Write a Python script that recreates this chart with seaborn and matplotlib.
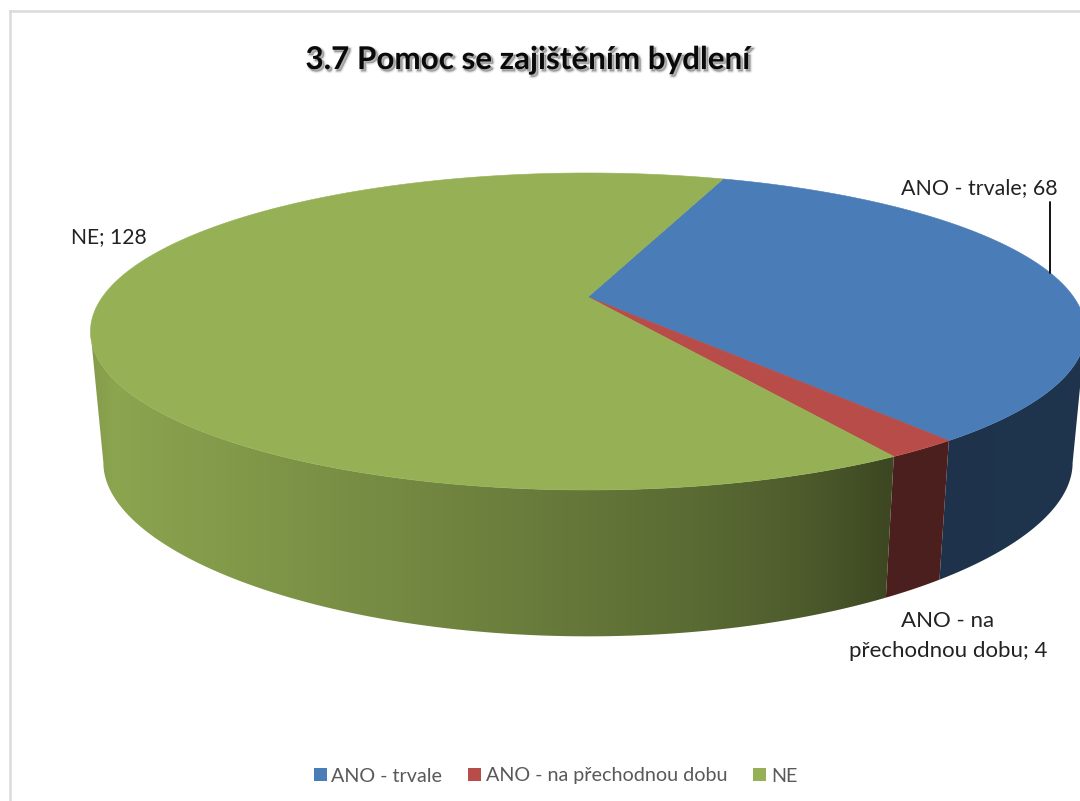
import numpy as np
import matplotlib
matplotlib.use("Agg")
import matplotlib.pyplot as plt
import matplotlib.patheffects as pe
from matplotlib.patches import Patch, Polygon
import seaborn as sns

# ---- data ----
categories = ["ANO - trvale", "ANO - na přechodnou dobu", "NE"]
values = [68, 4, 128]
title_text = "3.7 Pomoc se zajištěním bydlení"
label_texts = ["ANO - trvale; 68", "ANO - na\npřechodnou dobu; 4", "NE; 128"]
colors = ["#4A7CB7", "#B84C48", "#96B155"]

# ---- style ----
sns.set_theme(style="white")
plt.rcParams["font.family"] = ["Lato", "Open Sans", "DejaVu Sans"]
palette = sns.color_palette(colors)

W, H = 1080, 801
fig = plt.figure(figsize=(W / 100, H / 100), dpi=100, facecolor="white")
ax = fig.add_axes([0, 0, 1, 1])

# perspective model of the pie
CX = 588
START_DEG = 19.6
K = 0.2176
TOP = dict(a=485.6, y0=297.0, b=151.0, k=K)
BOT = dict(a=473.0, y0=428.0, b=150.0, k=0.28)
SIL_LO, SIL_HI = np.arccos(-K), 2 * np.pi - np.arccos(-K)  # outline tangents


def project(theta, plane):
    X, Y = np.sin(theta), np.cos(theta)
    u = CX + plane["a"] * X / (1 + K * Y)
    v = plane["y0"] - plane["b"] * Y / (1 + plane["k"] * Y)
    return u, v


def shade(x):
    return np.interp(x, [90, 115, 300, 500, 700, 800, 885, 1090],
                     [0.88, 0.93, 0.83, 0.72, 0.60, 0.52, 0.41, 0.42])


angles = np.deg2rad(START_DEG + np.concatenate([[0], np.cumsum(values)]) / sum(values) * 360)
xs = np.arange(W) + 0.5

# side wall: a horizontal lighting gradient clipped to each slice's visible wall
for i, col in enumerate(palette):
    lo, hi = max(angles[i], SIL_LO), min(angles[i + 1], SIL_HI)
    if hi <= lo:
        continue
    th = np.linspace(lo, hi, 200)
    ut, vt = project(th, TOP)
    ub, vb = project(th, BOT)
    wall = Polygon(np.c_[np.r_[ut, ub[::-1]], np.r_[vt, vb[::-1]]], closed=True,
                   transform=ax.transData, fc="none", ec="none")
    ax.add_patch(wall)
    grad = np.clip(shade(xs)[None, :, None] * np.array(col)[None, None, :], 0, 1)
    im = ax.imshow(grad, extent=(0, W, H, 0), aspect="auto", interpolation="bilinear", zorder=2)
    im.set_clip_path(wall)

ax.set_xlim(0, W)
ax.set_ylim(H, 0)
ax.axis("off")

# top face
for i, col in enumerate(palette):
    th = np.linspace(angles[i], angles[i + 1], 200)
    u, v = project(th, TOP)
    ax.fill(np.r_[CX, u], np.r_[TOP["y0"], v], color=col, lw=0.4, zorder=3)

# chart-area frame
frame = "#DCDCDC"
ax.plot([9.5, 9.5], [H, 11], color=frame, lw=1.9, zorder=1, solid_capstyle="projecting")
ax.plot([9.5, W], [11, 11], color=frame, lw=1.9, zorder=1, solid_capstyle="projecting")

# title with soft shadow
ax.text(527.5, 60, title_text, ha="center", va="center", fontsize=22.6, fontweight="bold",
        color="#0A0A0A", zorder=6,
        path_effects=[
            pe.Stroke(linewidth=3.0, foreground="black", alpha=0.05, offset=(1.5, -1.5)),
            pe.Stroke(linewidth=1.8, foreground="black", alpha=0.08, offset=(1.5, -1.5)),
            pe.Stroke(linewidth=0.6, foreground="black", alpha=0.15, offset=(1.5, -1.5)),
            pe.Normal(),
        ])

# data labels
ax.text(979.5, 188, label_texts[0], ha="center", va="center", color="#222222", fontsize=15.4, zorder=6)
ax.text(948, 636, label_texts[1], ha="center", va="center", color="#222222", fontsize=16,
        linespacing=1.68, zorder=6)
ax.text(108.5, 237, label_texts[2], ha="center", va="center", color="#222222", fontsize=15.2, zorder=6)
ax.plot([1049.5, 1049.5], [202, 273], color="black", lw=1.3, zorder=5)

# legend
handles = [Patch(facecolor=c, edgecolor="none", label=n) for c, n in zip(palette, categories)]
ax.legend(handles=handles, ncol=3, loc="center", bbox_to_anchor=(555.5 / W, 1 - 776 / H),
          frameon=False, fontsize=14.2, labelcolor="#595959",
          handlelength=0.66, handleheight=0.66, handletextpad=0.25, columnspacing=1.3,
          borderpad=0, borderaxespad=0)

fig.savefig("out.png", dpi=100, facecolor="white")
